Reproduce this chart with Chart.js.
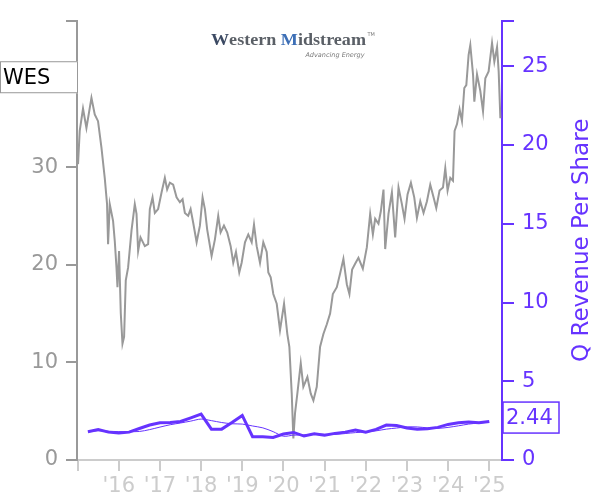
<!DOCTYPE html>
<html><head><meta charset="utf-8">
<script src="https://cdn.jsdelivr.net/npm/chart.js@4/dist/chart.umd.min.js"></script>
<style>html,body{margin:0;padding:0;background:#fff}#wrap{width:600px;height:500px;position:relative}</style>
</head><body><div id="wrap"><canvas id="c" width="600" height="500"></canvas></div>
<script>
// ---- data ----
const priceDates = [2015.010,2015.051,2015.131,2015.214,2015.336,2015.416,2015.496,2015.579,2015.659,2015.715,2015.740,2015.781,2015.861,2015.903,2015.944,2015.968,2016.007,2016.049,2016.090,2016.129,2016.170,2016.226,2016.309,2016.389,2016.431,2016.470,2016.528,2016.633,2016.713,
2016.754,2016.820,2016.876,2016.956,2017.039,2017.119,2017.175,2017.241,2017.321,2017.404,2017.484,2017.550,2017.606,2017.686,2017.745,2017.808,2017.891,2017.971,2018.036,2018.092,2018.148,2018.255,2018.336,2018.416,2018.474,2018.555,2018.635,2018.718,2018.781,2018.847,2018.927,2018.985,2019.066,2019.146,2019.229,2019.285,2019.350,2019.431,2019.511,2019.594,2019.633,
2019.691,2019.754,2019.837,2019.917,2020.015,2020.095,2020.144,2020.202,2020.241,2020.282,2020.338,2020.421,2020.484,2020.582,2020.664,2020.728,2020.810,2020.849,2020.891,2020.971,2021.054,2021.134,2021.200,2021.297,2021.377,2021.457,2021.540,2021.603,2021.669,
2021.742,2021.822,2021.929,2022.027,2022.107,2022.173,2022.229,2022.309,2022.367,2022.431,2022.472,2022.552,2022.635,2022.715,2022.796,2022.878,2022.942,2023.015,2023.097,2023.178,2023.243,2023.324,2023.404,2023.487,2023.567,2023.647,2023.713,2023.793,2023.876,2023.932,2023.988,2024.054,2024.119,
2024.158,2024.217,2024.280,2024.338,2024.394,2024.443,2024.499,2024.540,2024.606,2024.638,2024.703,2024.783,2024.849,2024.905,2024.985,2025.068,2025.124,2025.190,2025.229,2025.270];
const priceValues = [30.3,33.7,36.0,34.0,37.1,35.4,34.7,32.0,28.9,26.2,22.1,26.2,24.5,22.4,19.7,17.7,21.4,15.0,11.9,12.6,18.4,19.7,23.5,26.2,25.2,21.4,22.8,21.9,22.1,
25.7,26.9,25.3,25.7,27.4,28.9,27.7,28.4,28.2,26.9,26.4,26.7,25.3,25.0,25.7,24.3,22.3,24.0,26.9,25.7,23.6,20.9,22.6,25.0,23.3,24.0,23.3,21.9,20.2,21.3,19.2,20.2,22.3,23.1,22.3,24.1,21.9,20.2,22.3,21.3,19.2,
18.7,17.0,16.0,13.3,16.0,12.9,11.6,6.8,2.2,4.8,6.8,9.9,7.5,8.5,6.8,6.1,7.5,9.5,11.6,12.9,13.9,15.0,17.0,17.7,19.1,20.6,18.0,17.0,19.5,
20.1,20.7,19.6,21.8,25.2,23.1,24.7,24.2,25.5,27.7,21.6,25.2,27.4,22.8,27.9,26.2,24.7,27.2,28.4,26.9,24.8,26.5,25.3,26.5,28.2,26.9,25.8,27.6,27.9,29.9,27.6,28.9,28.6,
33.7,34.4,35.9,34.7,38.1,38.4,41.5,42.5,39.5,36.7,39.5,37.8,35.7,39.1,39.8,42.7,40.8,42.3,39.8,35.0];

const revenueQuarters = [2015.25,2015.5,2015.75,2016.0,2016.25,2016.5,2016.75,2017.0,2017.25,2017.5,2017.75,2018.0,2018.25,2018.5,2018.75,2019.0,2019.25,2019.5,2019.75,2020.0,2020.25,2020.5,2020.75,2021.0,2021.25,2021.5,2021.75,2022.0,2022.25,2022.5,2022.75,2023.0,2023.25,2023.5,2023.75,2024.0,2024.25,2024.5,2024.75,2025.0];
const revenueValues = [1.79,1.94,1.77,1.71,1.77,2.00,2.22,2.36,2.38,2.45,2.68,2.91,1.96,1.96,2.38,2.83,1.48,1.48,1.43,1.65,1.75,1.52,1.67,1.58,1.69,1.77,1.90,1.77,1.94,2.22,2.19,2.03,1.96,1.98,2.07,2.26,2.36,2.41,2.36,2.44];
const revenueTrend = [1.79,1.86,1.83,1.80,1.80,1.81,1.93,2.09,2.24,2.35,2.47,2.60,2.50,2.38,2.30,2.28,2.16,2.04,1.80,1.51,1.58,1.59,1.65,1.63,1.62,1.68,1.74,1.78,1.85,1.96,2.03,2.10,2.10,2.04,2.01,2.07,2.17,2.28,2.35,2.40];

const xTickYears = [2015,2016,2017,2018,2019,2020,2021,2022,2023,2024,2025];
const leftTickValues = [0,10,20,30,40,45];
const leftLabelled = [0,10,20,30];
const rightTickValues = [0,5,10,15,20,25,27.9];
const rightLabelled = [0,5,10,15,20,25];
const tickerLabel = 'WES';
const tickerLabelValue = 39.2;
const lastRevenueLabel = '2.44';
const rightTitle = 'Q Revenue Per Share';

// ---- styles ----
const PURPLE = '#6633ff';
const GRAY = '#999999';
const LIGHT = '#cccccc';
Chart.defaults.font.family = "'DejaVu Sans', sans-serif";

const overlay = {
  id: 'overlay',
  afterDraw(chart) {
    const ctx = chart.ctx;
    const yL = chart.scales.yL, yR = chart.scales.yR, area = chart.chartArea;
    ctx.save();
    // ticker box on left
    const ty = yL.getPixelForValue(tickerLabelValue);
    ctx.fillStyle = '#fff';
    ctx.fillRect(0, ty - 16, area.left + 1, 32);
    ctx.strokeStyle = GRAY; ctx.lineWidth = 1;
    ctx.strokeRect(0.5, ty - 15.5, area.left, 31);
    ctx.fillStyle = '#000';
    ctx.font = "21px 'DejaVu Sans'";
    ctx.textBaseline = 'middle'; ctx.textAlign = 'left';
    ctx.fillText(tickerLabel, 3, ty + 1);
    // last revenue box on right
    const ry = yR.getPixelForValue(parseFloat(lastRevenueLabel)) - 4;
    ctx.fillStyle = '#fff';
    ctx.fillRect(area.right + 1, ry - 15.5, 56, 31);
    ctx.strokeStyle = PURPLE; ctx.lineWidth = 1.5;
    ctx.strokeRect(area.right + 1, ry - 15.5, 56, 31);
    ctx.fillStyle = PURPLE;
    ctx.fillText(lastRevenueLabel, area.right + 4, ry + 1);
    // right axis title (reads upward)
    ctx.save();
    ctx.translate(582, (area.top + area.bottom) / 2);
    ctx.rotate(-Math.PI / 2);
    ctx.textAlign = 'center';
    ctx.font = "23px 'DejaVu Sans'";
    ctx.fillStyle = PURPLE;
    ctx.fillText(rightTitle, 0, 0);
    ctx.restore();
    // logo
    const cx = (area.left + area.right) / 2;
    ctx.font = "bold 17px 'Liberation Serif'";
    const parts = [['W', '#3c4a63'], ['estern ', '#5a5f66'], ['M', '#3d6fb6'], ['idstream', '#5a5f66']];
    let total = 0; parts.forEach(p => total += ctx.measureText(p[0]).width);
    const scale = 155 / total;
    ctx.save();
    ctx.translate(cx - 155 / 2 - 1, 45);
    ctx.scale(scale, 1);
    let x = 0;
    ctx.textAlign = 'left'; ctx.textBaseline = 'alphabetic';
    parts.forEach(p => { ctx.fillStyle = p[1]; ctx.fillText(p[0], x, 0); x += ctx.measureText(p[0]).width; });
    ctx.restore();
    ctx.fillStyle = '#777';
    ctx.font = "5px 'DejaVu Sans'";
    ctx.fillText('TM', cx + 78, 35);
    ctx.font = "italic 6.5px 'DejaVu Sans'";
    ctx.textAlign = 'right';
    ctx.fillText('Advancing Energy', cx + 75, 55);
    ctx.restore();
  }
};

new Chart(document.getElementById('c'), {
  type: 'line',
  data: {
    datasets: [
      { data: revenueQuarters.map((q, i) => ({ x: q, y: revenueValues[i] })), yAxisID: 'yR',
        borderColor: PURPLE, borderWidth: 3, pointRadius: 0, tension: 0 },
      { data: revenueQuarters.map((q, i) => ({ x: q, y: revenueTrend[i] })), yAxisID: 'yR',
        borderColor: PURPLE, borderWidth: 1, pointRadius: 0, tension: 0.3 },
      { data: priceDates.map((d, i) => ({ x: d, y: priceValues[i] })), yAxisID: 'yL',
        borderColor: GRAY, borderWidth: 2, pointRadius: 0, tension: 0 }
    ]
  },
  options: {
    responsive: false, animation: false, devicePixelRatio: 1,
    layout: { padding: { top: 19, left: 0, right: 0, bottom: 0 } },
    plugins: { legend: { display: false }, tooltip: { enabled: false } },
    scales: {
      x: {
        type: 'linear', position: 'bottom', min: 2014.985, max: 2025.31,
        afterBuildTicks: s => { s.ticks = xTickYears.map(v => ({ value: v })); },
        afterFit: s => { s.height = 40; },
        ticks: { autoSkip: false, maxRotation: 0, color: LIGHT, font: { size: 21 }, padding: 3,
          callback: v => v === xTickYears[0] ? '' : "'" + String(v).slice(2) },
        grid: { drawOnChartArea: false, tickLength: 11, color: LIGHT, lineWidth: 2 },
        border: { color: LIGHT, width: 2 }
      },
      yL: {
        type: 'linear', position: 'left', min: 0, max: 45,
        afterBuildTicks: s => { s.ticks = leftTickValues.map(v => ({ value: v })); },
        afterFit: s => { s.width = 77; },
        ticks: { color: GRAY, font: { size: 21 }, padding: 8,
          callback: v => (leftLabelled.includes(v) ? String(v) : '') },
        grid: { drawOnChartArea: false, tickLength: 11, color: GRAY, lineWidth: 2 },
        border: { color: GRAY, width: 2 }
      },
      yR: {
        type: 'linear', position: 'right', min: 0, max: 27.9,
        afterBuildTicks: s => { s.ticks = rightTickValues.map(v => ({ value: v })); },
        afterFit: s => { s.width = 98; },
        ticks: { color: PURPLE, font: { size: 21 }, padding: 8,
          callback: v => (rightLabelled.includes(v) ? String(v) : '') },
        grid: { drawOnChartArea: false, tickLength: 12, color: PURPLE, lineWidth: 2 },
        border: { color: PURPLE, width: 2 }
      }
    }
  },
  plugins: [overlay]
});
</script></body></html>
